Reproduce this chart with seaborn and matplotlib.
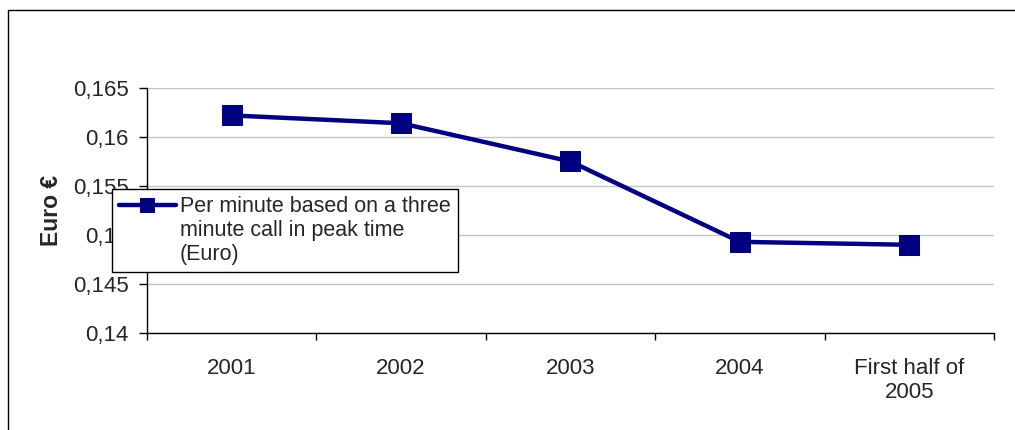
import matplotlib
matplotlib.use("Agg")
import matplotlib.pyplot as plt
import matplotlib.ticker as mticker
from matplotlib.lines import Line2D
import pandas as pd
import seaborn as sns

categories = ["2001", "2002", "2003", "2004", "First half of\n2005"]
price = [0.1622, 0.1614, 0.1575, 0.1493, 0.1490]
series_name = "Per minute based on a three\nminute call in peak time\n(Euro)"
y_ticks = [0.14, 0.145, 0.15, 0.155, 0.16, 0.165]
y_labels = ["0,14", "0,145", "0,15", "0,155", "0,16", "0,165"]

df = pd.DataFrame({"period": categories, "price": price})

sns.set_style("white")
plt.rcParams["font.family"] = ["Liberation Sans", "DejaVu Sans"]

fig = plt.figure(figsize=(10.15, 4.3), dpi=100)
ax = fig.add_axes([0.1448, 0.2256, 0.8345, 0.5698])

navy = "#000080"
sns.lineplot(data=df, x="period", y="price", ax=ax, color=navy, linewidth=3.2,
             marker="s", markersize=14, markeredgecolor=navy, label=series_name,
             sort=False)

ax.set_xlim(-0.5, len(categories) - 0.5)
ax.set_ylim(0.14, 0.165)

# y axis
ax.set_yticks(y_ticks)
ax.set_yticklabels(y_labels)
ax.tick_params(axis="y", length=6, width=1, pad=7, labelsize=16, left=True, color="black")
ax.yaxis.grid(True, color="#c4c4c4", linewidth=1)
ax.set_ylabel("Euro €", fontsize=16.5, fontweight="bold", va="center")
ax.yaxis.set_label_coords(-0.1125, 0.5)

# x axis: ticks between categories, labels centred
ax.xaxis.set_major_locator(mticker.FixedLocator([i - 0.5 for i in range(len(categories) + 1)]))
ax.xaxis.set_major_formatter(mticker.NullFormatter())
ax.xaxis.set_minor_locator(mticker.FixedLocator(list(range(len(categories)))))
ax.xaxis.set_minor_formatter(mticker.FixedFormatter(categories))
ax.tick_params(axis="x", which="major", length=5, width=1, bottom=True, color="black")
ax.tick_params(axis="x", which="minor", length=0, pad=18, labelsize=16)
ax.set_xlabel("")

for s in ["top", "right"]:
    ax.spines[s].set_visible(False)
for s in ["left", "bottom"]:
    ax.spines[s].set_color("black")
    ax.spines[s].set_linewidth(1)

leg_fs = 15.5
leg = ax.legend(loc="upper left", bbox_to_anchor=(0.110, 0.560),
                bbox_transform=fig.transFigure, borderaxespad=0,
                frameon=True, fancybox=False, framealpha=1, edgecolor="black",
                fontsize=leg_fs, handlelength=2.65, handletextpad=0.2,
                borderpad=0.32, labelspacing=0.2)
leg.get_frame().set_linewidth(1)
# put the legend key next to the first line of the label
for h in leg.legend_handles:
    h.set_ydata([y + 1.2 * leg_fs for y in h.get_ydata()])
    h.set_markersize(10.5)

# outer chart frame
fig.add_artist(Line2D([0.0079, 0.0079], [0.0, 0.977], transform=fig.transFigure,
                      color="black", linewidth=1))
fig.add_artist(Line2D([0.0079, 1.0], [0.977, 0.977], transform=fig.transFigure,
                      color="black", linewidth=1))

fig.savefig("out.png", dpi=100)
